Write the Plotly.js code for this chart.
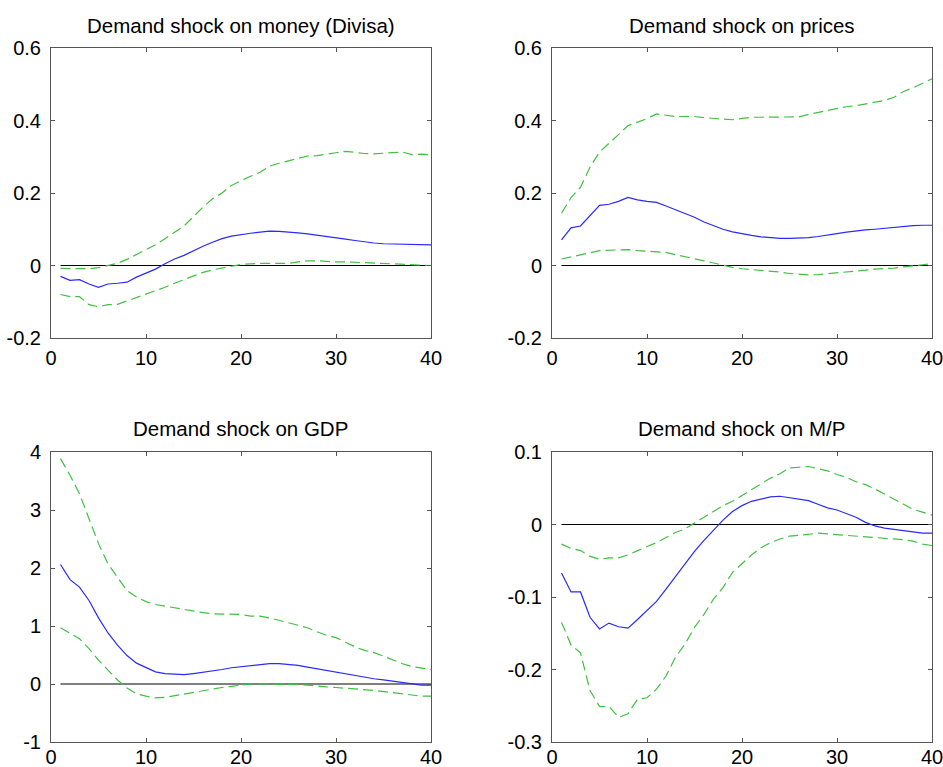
<!DOCTYPE html>
<html>
<head>
<meta charset="utf-8">
<script src="https://cdn.plot.ly/plotly-3.0.1.min.js"></script>
<style>html,body{margin:0;padding:0;background:#fff;}#chart{width:943px;height:767px;}</style>
</head>
<body>
<div id="chart"></div>
<script>
var horizon = [];
for (var i = 1; i <= 40; i++) horizon.push(i);

var titles = ["Demand shock on money (Divisa)", "Demand shock on prices", "Demand shock on GDP", "Demand shock on M/P"];

var moneyMid = [-0.030,-0.041,-0.039,-0.051,-0.060,-0.051,-0.049,-0.046,-0.032,-0.021,-0.010,0.005,0.018,0.028,0.041,0.053,0.064,0.074,0.081,0.086,0.089,0.092,0.095,0.094,0.093,0.090,0.087,0.084,0.079,0.076,0.073,0.069,0.065,0.062,0.060,0.059,0.058,0.057,0.057,0.057];
var moneyUp = [-0.008,-0.009,-0.009,-0.009,-0.006,0.000,0.006,0.017,0.030,0.043,0.057,0.074,0.092,0.109,0.135,0.161,0.184,0.200,0.221,0.234,0.246,0.257,0.274,0.282,0.288,0.294,0.302,0.303,0.306,0.311,0.315,0.311,0.309,0.308,0.310,0.313,0.313,0.306,0.307,0.305];
var moneyLo = [-0.080,-0.086,-0.086,-0.108,-0.114,-0.108,-0.107,-0.098,-0.089,-0.080,-0.071,-0.060,-0.049,-0.039,-0.029,-0.019,-0.012,-0.006,-0.002,0.003,0.005,0.006,0.006,0.006,0.006,0.010,0.013,0.013,0.011,0.010,0.010,0.009,0.007,0.006,0.005,0.005,0.005,0.002,0.001,0.000];

var pricesMid = [0.071,0.104,0.109,0.138,0.166,0.169,0.177,0.188,0.181,0.177,0.174,0.164,0.154,0.143,0.133,0.120,0.109,0.100,0.093,0.087,0.083,0.079,0.076,0.075,0.075,0.075,0.077,0.080,0.085,0.088,0.092,0.096,0.098,0.100,0.103,0.106,0.108,0.110,0.111,0.111];
var pricesUp = [0.144,0.187,0.216,0.271,0.313,0.336,0.361,0.386,0.395,0.405,0.418,0.414,0.411,0.411,0.411,0.408,0.406,0.405,0.402,0.406,0.409,0.409,0.409,0.409,0.409,0.410,0.417,0.422,0.428,0.434,0.438,0.441,0.446,0.452,0.455,0.464,0.480,0.490,0.503,0.515];
var pricesLo = [0.018,0.023,0.029,0.035,0.041,0.042,0.044,0.044,0.041,0.039,0.037,0.036,0.030,0.025,0.020,0.013,0.007,0.000,-0.005,-0.009,-0.011,-0.013,-0.017,-0.018,-0.022,-0.025,-0.026,-0.025,-0.023,-0.021,-0.018,-0.017,-0.013,-0.010,-0.009,-0.007,-0.004,0.000,0.002,0.005];

var gdpMid = [2.06,1.80,1.67,1.44,1.14,0.88,0.67,0.49,0.36,0.28,0.21,0.18,0.17,0.16,0.18,0.20,0.22,0.25,0.28,0.30,0.32,0.34,0.35,0.35,0.34,0.32,0.29,0.26,0.24,0.21,0.18,0.15,0.12,0.09,0.07,0.05,0.02,0.00,-0.02,-0.02];
var gdpUp = [3.885,3.60,3.28,2.85,2.42,2.07,1.84,1.61,1.50,1.42,1.37,1.34,1.31,1.29,1.26,1.23,1.21,1.21,1.21,1.20,1.17,1.17,1.14,1.10,1.06,1.01,0.97,0.90,0.84,0.80,0.72,0.64,0.58,0.54,0.48,0.41,0.35,0.30,0.28,0.25];
var gdpLo = [0.97,0.87,0.78,0.61,0.41,0.24,0.07,-0.07,-0.17,-0.21,-0.24,-0.23,-0.20,-0.17,-0.14,-0.11,-0.09,-0.06,-0.04,-0.02,0.00,0.00,0.00,0.00,0.00,-0.01,-0.02,-0.04,-0.05,-0.06,-0.07,-0.09,-0.10,-0.11,-0.13,-0.15,-0.17,-0.19,-0.21,-0.21];

var mpMid = [-0.067,-0.093,-0.093,-0.128,-0.144,-0.136,-0.141,-0.143,-0.131,-0.119,-0.106,-0.089,-0.072,-0.055,-0.037,-0.022,-0.008,0.006,0.018,0.026,0.032,0.035,0.038,0.039,0.037,0.036,0.033,0.028,0.023,0.020,0.015,0.010,0.003,-0.002,-0.005,-0.007,-0.009,-0.011,-0.012,-0.012];
var mpUp = [-0.027,-0.033,-0.036,-0.044,-0.048,-0.046,-0.046,-0.042,-0.036,-0.031,-0.025,-0.018,-0.011,-0.006,0.002,0.010,0.017,0.026,0.032,0.040,0.047,0.056,0.064,0.070,0.078,0.079,0.080,0.077,0.074,0.069,0.065,0.059,0.055,0.049,0.042,0.035,0.028,0.021,0.017,0.013];
var mpLo = [-0.135,-0.166,-0.177,-0.229,-0.251,-0.251,-0.266,-0.261,-0.241,-0.239,-0.227,-0.209,-0.183,-0.165,-0.142,-0.124,-0.103,-0.087,-0.066,-0.054,-0.042,-0.032,-0.025,-0.020,-0.016,-0.015,-0.013,-0.012,-0.013,-0.014,-0.015,-0.015,-0.017,-0.018,-0.019,-0.019,-0.021,-0.023,-0.027,-0.029];

var xTicks = [0, 10, 20, 30, 40];
var yTicks1 = [-0.2, 0, 0.2, 0.4, 0.6];
var yTickText1 = ["-0.2", "0", "0.2", "0.4", "0.6"];
var yTicks3 = [-1, 0, 1, 2, 3, 4];
var yTicks4 = [-0.3, -0.2, -0.1, 0, 0.1];
var yTickText4 = ["-0.3", "-0.2", "-0.1", "0", "0.1"];

var panels = [
  {mid: moneyMid, up: moneyUp, lo: moneyLo, yr: [-0.2, 0.6], yt: yTicks1, ytt: yTickText1},
  {mid: pricesMid, up: pricesUp, lo: pricesLo, yr: [-0.2, 0.6], yt: yTicks1, ytt: yTickText1},
  {mid: gdpMid, up: gdpUp, lo: gdpLo, yr: [-1, 4], yt: yTicks3, ytt: yTicks3.map(String)},
  {mid: mpMid, up: mpUp, lo: mpLo, yr: [-0.3, 0.1], yt: yTicks4, ytt: yTickText4}
];

var W = 943, H = 767;
var xDoms = [[51/W, 431/W], [552/W, 932/W]];
var yDoms = [[1 - 338/H, 1 - 48/H], [1 - 742/H, 1 - 452/H]];
var titleY = [1 - 25/H, 1 - 428/H];

var FONT = "Liberation Sans, Arial, Helvetica, sans-serif";
var green = "#40c040";
var blue = "#2a2aff";
var frame = "#555555";

var data = [];
var layout = {
  width: W, height: H,
  margin: {l: 0, r: 0, t: 0, b: 0},
  paper_bgcolor: "#fff", plot_bgcolor: "#fff",
  showlegend: false,
  font: {family: FONT, size: 20, color: "#000"},
  annotations: []
};

panels.forEach(function (p, k) {
  var n = k + 1;
  var xa = "x" + (n === 1 ? "" : n), ya = "y" + (n === 1 ? "" : n);
  var zeros = horizon.map(function () { return 0; });
  data.push({x: horizon, y: zeros, xaxis: xa, yaxis: ya, mode: "lines", line: {color: "#000", width: 1}, hoverinfo: "skip"});
  data.push({x: horizon, y: p.up, xaxis: xa, yaxis: ya, mode: "lines", line: {color: green, width: 1.2, dash: "10px,5px"}});
  data.push({x: horizon, y: p.lo, xaxis: xa, yaxis: ya, mode: "lines", line: {color: green, width: 1.2, dash: "10px,5px"}});
  data.push({x: horizon, y: p.mid, xaxis: xa, yaxis: ya, mode: "lines", line: {color: blue, width: 1.2}});

  var col = k % 2, row = Math.floor(k / 2);
  var axCommon = {
    showgrid: false, zeroline: false, showline: true, mirror: "ticks",
    linecolor: frame, linewidth: 1, ticks: "inside", ticklen: 4, tickcolor: frame, tickwidth: 1,
    tickfont: {family: FONT, size: 20, color: "#000"}, fixedrange: true,
    ticklabeloverflow: "allow"
  };
  layout["xaxis" + (n === 1 ? "" : n)] = Object.assign({}, axCommon, {
    domain: xDoms[col], range: [0, 40], tickvals: xTicks, ticktext: xTicks.map(String),
    anchor: ya, ticklabelstandoff: row === 0 ? 2 : -3
  });
  layout["yaxis" + (n === 1 ? "" : n)] = Object.assign({}, axCommon, {
    domain: yDoms[row], range: p.yr, tickvals: p.yt, ticktext: p.ytt,
    anchor: xa, ticklabelstandoff: 5
  });
  layout.annotations.push({
    text: titles[k], xref: "paper", yref: "paper",
    x: (xDoms[col][0] + xDoms[col][1]) / 2, y: titleY[row],
    xanchor: "center", yanchor: "middle", showarrow: false,
    font: {family: FONT, size: 20.5, color: "#000"}
  });
});

Plotly.newPlot("chart", data, layout, {staticPlot: true, displayModeBar: false});
</script>
</body>
</html>
